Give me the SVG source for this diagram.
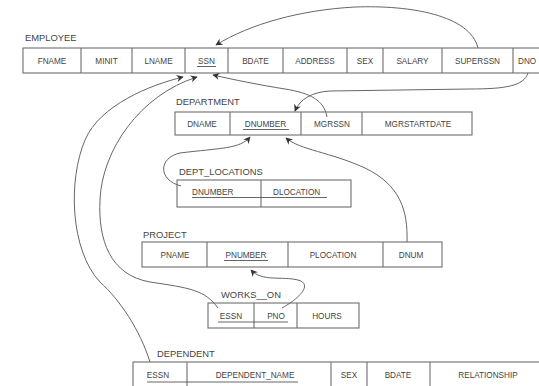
<svg xmlns="http://www.w3.org/2000/svg" width="539" height="386" viewBox="0 0 539 386">
<defs>
<style>
.cell{fill:#fff;stroke:#6e6e6e;stroke-width:1.1}
.t{font-family:"Liberation Sans",Arial,sans-serif;font-size:8.2px;fill:#444;text-anchor:middle}
.ts{font-family:"Liberation Sans",Arial,sans-serif;font-size:8.2px;fill:#444}
.lbl{font-family:"Liberation Sans",Arial,sans-serif;font-size:9.4px;fill:#444}
.ul{stroke:#555;stroke-width:0.9}
.c{fill:none;stroke:#666;stroke-width:1}
.a{fill:none;stroke:#666;stroke-width:1;marker-end:url(#arr)}
</style>
<marker id="arr" viewBox="0 0 10 10" refX="9" refY="5" markerWidth="8" markerHeight="7" orient="auto" markerUnits="userSpaceOnUse">
<path d="M0,0 L10,5 L0,10 L3,5 Z" fill="#333"/>
</marker>
</defs>
<rect width="539" height="386" fill="#fff"/>

<g id="employee">
<text class="lbl" x="25" y="41">EMPLOYEE</text>
<rect class="cell" x="23" y="48" width="530" height="25"/>
<path class="cell" d="M81,48V73M132,48V73M185,48V73M228,48V73M283,48V73M347,48V73M383,48V73M442,48V73M513,48V73"/>
<text class="t" x="52" y="64">FNAME</text>
<text class="t" x="106.5" y="64">MINIT</text>
<text class="t" x="158.5" y="64">LNAME</text>
<text class="t" x="206.5" y="64">SSN</text>
<line class="ul" x1="197" y1="66.5" x2="216" y2="66.5"/>
<text class="t" x="255.5" y="64">BDATE</text>
<text class="t" x="315" y="64">ADDRESS</text>
<text class="t" x="365" y="64">SEX</text>
<text class="t" x="412.5" y="64">SALARY</text>
<text class="t" x="477.5" y="64">SUPERSSN</text>
<text class="ts" x="518" y="64">DNO</text>
</g>

<g id="department">
<text class="lbl" x="176" y="105">DEPARTMENT</text>
<rect class="cell" x="175" y="112" width="297" height="23"/>
<path class="cell" d="M230,112V135M301,112V135M362,112V135"/>
<text class="t" x="202" y="127">DNAME</text>
<text class="t" x="265.5" y="127">DNUMBER</text>
<line class="ul" x1="243" y1="129.5" x2="289" y2="129.5"/>
<text class="t" x="332" y="127">MGRSSN</text>
<text class="t" x="418" y="127">MGRSTARTDATE</text>
</g>

<g id="dept_locations">
<text class="lbl" x="179" y="175">DEPT_LOCATIONS</text>
<rect class="cell" x="177" y="180" width="174" height="27"/>
<path class="cell" d="M261,180V207"/>
<text class="ts" x="192" y="195">DNUMBER</text>
<text class="ts" x="273" y="195">DLOCATION</text>
<line class="ul" x1="192" y1="197.5" x2="327" y2="197.5"/>
</g>

<g id="project">
<text class="lbl" x="143" y="238">PROJECT</text>
<rect class="cell" x="142" y="242" width="300" height="25"/>
<path class="cell" d="M207,242V267M288,242V267M383,242V267"/>
<text class="t" x="175" y="258">PNAME</text>
<text class="t" x="246" y="258">PNUMBER</text>
<line class="ul" x1="224" y1="260.5" x2="268" y2="260.5"/>
<text class="t" x="333" y="258">PLOCATION</text>
<text class="t" x="411" y="258">DNUM</text>
</g>

<g id="works_on">
<text class="lbl" x="221" y="298">WORKS__ON</text>
<rect class="cell" x="208" y="303" width="151" height="25"/>
<path class="cell" d="M254,303V328M297,303V328"/>
<text class="t" x="231" y="319">ESSN</text>
<text class="t" x="276" y="319">PNO</text>
<line class="ul" x1="218" y1="322" x2="288" y2="322"/>
<text class="t" x="327" y="319">HOURS</text>
</g>

<g id="dependent">
<text class="lbl" x="157" y="357">DEPENDENT</text>
<rect class="cell" x="133" y="362" width="420" height="30"/>
<path class="cell" d="M187,362V392M331,362V392M367,362V392M430,362V392"/>
<text class="t" x="158" y="378">ESSN</text>
<text class="t" x="255" y="378">DEPENDENT_NAME</text>
<line class="ul" x1="147" y1="382" x2="298" y2="382"/>
<text class="t" x="349" y="378">SEX</text>
<text class="t" x="398" y="378">BDATE</text>
<text class="t" x="488" y="378">RELATIONSHIP</text>
</g>

<g id="connectors">
<path class="a" d="M478,48 C470,15 410,5 355,7 C300,10 250,24 216,45"/>
<path class="a" d="M528,73 C524,86 505,89 470,89 L330,91 C312,92 300,99 295,111"/>
<path class="a" d="M327,117 C324,100 310,93 285,89 C260,85 235,80 213,75"/>
<path class="a" d="M181,186 C158,180 158,158 180,153 C220,148 240,149 250,137"/>
<path class="a" d="M407,242 C408,210 400,185 365,168 C330,152 300,150 286,138"/>
<path class="a" d="M282,308 C300,298 313,284 298,280 C282,276 262,282 251,270"/>
<path class="a" d="M218,308 C205,290 190,288 150,282 C110,275 98,240 100,200 C102,150 140,95 197,77"/>
<path class="a" d="M150,362 C140,330 120,300 100,282 C70,250 68,180 85,140 C100,105 150,85 183,77"/>
</g>
</svg>
